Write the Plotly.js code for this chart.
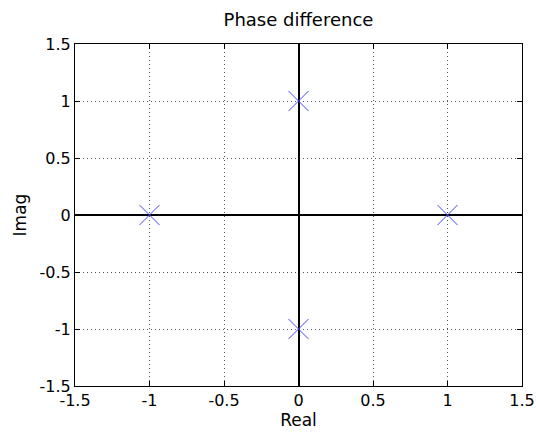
<!DOCTYPE html>
<html>
<head>
<meta charset="utf-8">
<script src="https://cdn.plot.ly/plotly-3.0.1.min.js"></script>
<style>html,body{margin:0;padding:0;background:#fff;}#chart{width:536px;height:435px;}</style>
</head>
<body>
<div id="chart"></div>
<script>
const realParts = [1, 0, -1, 0];
const imagParts = [0, 1, 0, -1];
const tickVals = [-1.5, -1, -0.5, 0, 0.5, 1, 1.5];
const tickText = ['-1.5', '-1', '-0.5', '0', '0.5', '1', '1.5'];

const FONT = 'DejaVu Sans, Arial, sans-serif';

const axisCommon = {
  range: [-1.5, 1.5],
  tickvals: tickVals,
  ticktext: tickText,
  ticks: 'inside',
  ticklen: 5,
  tickcolor: '#000',
  showline: true,
  linecolor: '#000',
  linewidth: 1,
  mirror: 'ticks',
  showgrid: true,
  gridcolor: '#555',
  griddash: '1px,3px',
  gridwidth: 1,
  zeroline: true,
  zerolinecolor: '#000',
  zerolinewidth: 2,
  tickfont: {family: FONT, size: 16, color: '#000'},
  fixedrange: true
};

const trace = {
  x: realParts,
  y: imagParts,
  mode: 'markers',
  type: 'scatter',
  marker: {symbol: 'x-thin-open', size: 20, color: '#4444ff', line: {color: '#4444ff', width: 1}},
  showlegend: false,
  hoverinfo: 'none'
};

const layout = {
  width: 536,
  height: 435,
  margin: {l: 75, r: 14, t: 44, b: 49},
  paper_bgcolor: '#fff',
  plot_bgcolor: '#fff',
  title: {text: 'Phase difference', font: {family: FONT, size: 18, color: '#000'}, xref: 'paper', x: 0.5, xanchor: 'center', y: 0.955, yanchor: 'middle'},
  xaxis: Object.assign({}, axisCommon, {ticklabelstandoff: 0, title: {text: 'Real', font: {family: FONT, size: 17, color: '#000'}, standoff: 2}}),
  yaxis: Object.assign({}, axisCommon, {ticklabelstandoff: 0, title: {text: 'Imag', font: {family: FONT, size: 17, color: '#000'}, standoff: 8}})
};

Plotly.newPlot('chart', [trace], layout, {displayModeBar: false, staticPlot: true});
</script>
</body>
</html>
